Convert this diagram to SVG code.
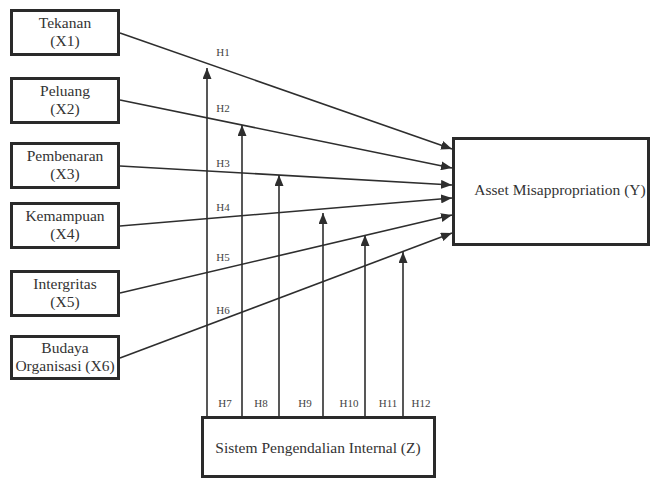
<svg xmlns="http://www.w3.org/2000/svg" width="651" height="479" viewBox="0 0 651 479">
<style>
.box{fill:#fff;stroke:#2a2a2a;stroke-width:3}
.t{font-family:"Liberation Serif",serif;font-size:15.5px;fill:#333;text-anchor:middle}
.h{font-family:"Liberation Serif",serif;font-size:11px;fill:#444;text-anchor:middle}
.c line{stroke:#2e2e2e;stroke-width:1.6;marker-end:url(#ah)}
</style>
<defs>
<marker id="ah" markerUnits="userSpaceOnUse" markerWidth="11" markerHeight="9" refX="11" refY="4.5" orient="auto">
<path d="M0,0 L11,4.5 L0,9 z" fill="#2e2e2e"/>
</marker>
</defs>
<rect width="651" height="479" fill="#fff"/>
<g id="connectors" class="c">
<line x1="120" y1="33" x2="452" y2="149"/>
<line x1="120" y1="100" x2="452" y2="168"/>
<line x1="120" y1="166" x2="452" y2="185"/>
<line x1="120" y1="226" x2="452" y2="198"/>
<line x1="120" y1="293" x2="452" y2="215"/>
<line x1="120" y1="358" x2="452" y2="233"/>
<line x1="207" y1="417" x2="207" y2="68"/>
<line x1="242" y1="417" x2="242" y2="125"/>
<line x1="279" y1="417" x2="279" y2="175"/>
<line x1="323" y1="417" x2="323" y2="213"/>
<line x1="365" y1="417" x2="365" y2="235"/>
<line x1="403" y1="417" x2="403" y2="252"/>
</g>
<g id="labels">
<text class="h" x="223" y="56">H1</text>
<text class="h" x="223" y="112">H2</text>
<text class="h" x="223" y="167">H3</text>
<text class="h" x="223" y="211">H4</text>
<text class="h" x="223" y="261">H5</text>
<text class="h" x="223" y="314">H6</text>
<text class="h" x="225" y="407">H7</text>
<text class="h" x="261" y="407">H8</text>
<text class="h" x="305" y="407">H9</text>
<text class="h" x="349" y="407">H10</text>
<text class="h" x="388" y="407">H11</text>
<text class="h" x="421" y="407">H12</text>
</g>
<g id="x1"><rect class="box" x="11.5" y="10.5" width="107" height="44"/><text class="t" x="65" y="28">Tekanan</text><text class="t" x="65" y="46">(X1)</text></g>
<g id="x2"><rect class="box" x="11.5" y="78.5" width="107" height="44"/><text class="t" x="65" y="96">Peluang</text><text class="t" x="65" y="114">(X2)</text></g>
<g id="x3"><rect class="box" x="11.5" y="143.5" width="107" height="44"/><text class="t" x="65" y="161">Pembenaran</text><text class="t" x="65" y="179">(X3)</text></g>
<g id="x4"><rect class="box" x="11.5" y="203.5" width="107" height="44"/><text class="t" x="65" y="221">Kemampuan</text><text class="t" x="65" y="239">(X4)</text></g>
<g id="x5"><rect class="box" x="11.5" y="271.5" width="107" height="44"/><text class="t" x="65" y="289">Intergritas</text><text class="t" x="65" y="307">(X5)</text></g>
<g id="x6"><rect class="box" x="11.5" y="336.5" width="107" height="42"/><text class="t" x="65" y="353">Budaya</text><text class="t" x="65" y="371">Organisasi (X6)</text></g>
<g id="y"><rect class="box" x="453.5" y="138.5" width="195" height="106"/><text class="t" x="560" y="195">Asset Misappropriation (Y)</text></g>
<g id="z"><rect class="box" x="202.5" y="417.5" width="232" height="59"/><text class="t" x="318" y="453">Sistem Pengendalian Internal (Z)</text></g>
</svg>
